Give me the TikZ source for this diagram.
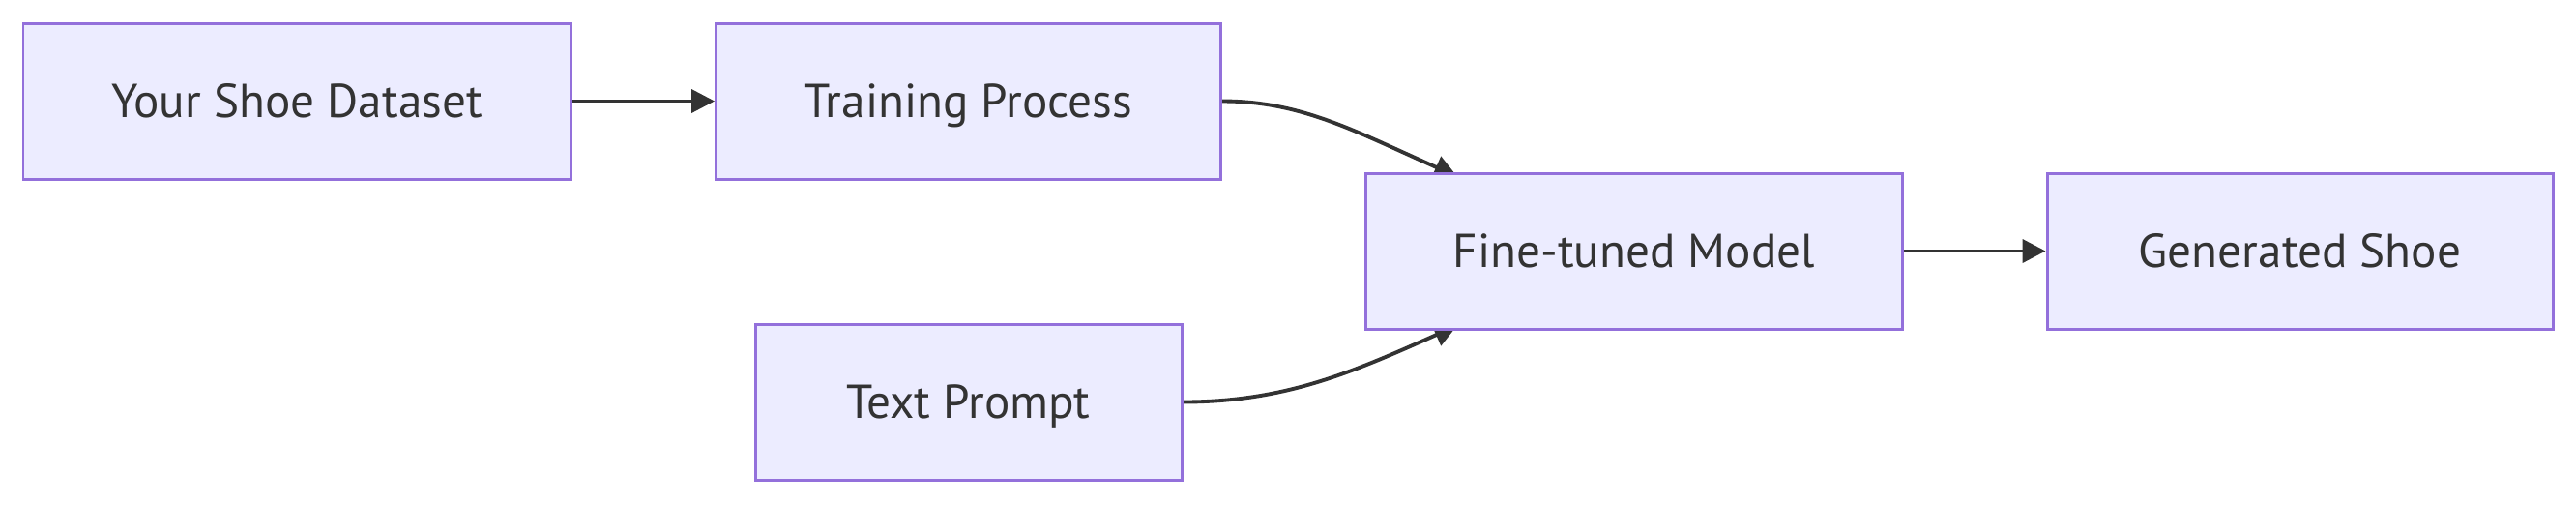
\documentclass[tikz,border=0pt]{standalone}
\usepackage{fontspec}
\setmainfont{PT Sans}
\usetikzlibrary{arrows.meta,backgrounds}
\definecolor{nodefill}{HTML}{ECECFF}
\definecolor{nodeline}{HTML}{9370DB}
\definecolor{edgecol}{HTML}{333333}
\begin{document}
\begin{tikzpicture}[
  box/.style={draw=nodeline, fill=nodefill, line width=0.85pt, rectangle,
    minimum height=1.61cm, inner sep=0pt, text=edgecol,
    text height=9.8pt, text depth=0pt,
    font=\fontsize{14pt}{16pt}\selectfont},
  conn/.style={draw=edgecol, line width=1.1pt,
    -{Triangle[length=6.8pt,width=6.8pt]}}
]
\useasboundingbox (0,0) rectangle (26.64,-5.21);
\node[box, minimum width=5.66cm] (ds) at (3.07,-1.045) {Your Shoe Dataset};
\node[box, minimum width=5.22cm] (tp) at (10.015,-1.045) {Training Process};
\node[box, minimum width=4.41cm] (pr) at (10.015,-4.155) {Text Prompt};
\node[box, minimum width=5.55cm] (ft) at (16.90,-2.595) {Fine-tuned Model};
\node[box, minimum width=5.23cm] (gs) at (23.785,-2.595) {Generated Shoe};
\begin{scope}[on background layer]
\draw[conn] (ds.east) -- (tp.west);
\draw[conn] (tp.east) .. controls (13.45,-1.045) and (14.00,-1.35) .. ([xshift=0.96cm,yshift=-0.05cm]ft.north west);
\draw[conn] (pr.east) .. controls (13.30,-4.155) and (14.00,-3.84) .. ([xshift=0.96cm,yshift=0.05cm]ft.south west);
\draw[conn] (ft.east) -- (gs.west);
\end{scope}
\end{tikzpicture}
\end{document}
